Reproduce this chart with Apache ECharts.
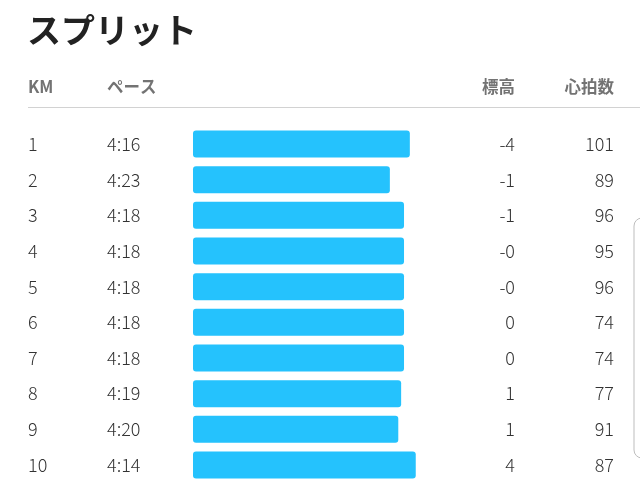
<!DOCTYPE html>
<html>
<head>
<meta charset="utf-8">
<script src="https://cdn.jsdelivr.net/npm/echarts@6/dist/echarts.min.js"></script>
<style>
  html, body { margin: 0; padding: 0; background: #fff; }
  #chart { width: 640px; height: 502px; }
</style>
</head>
<body>
<div id="chart"></div>
<script>
// スプリット表のデータ
const kmLabels = ['1', '2', '3', '4', '5', '6', '7', '8', '9', '10']
const paceLabels = ['4:16', '4:23', '4:18', '4:18', '4:18', '4:18', '4:18', '4:19', '4:20', '4:14']
const elevationLabels = ['-4', '-1', '-1', '-0', '-0', '0', '0', '1', '1', '4']
const heartRates = [101, 89, 96, 95, 96, 74, 74, 77, 91, 87]

// ペース(分:秒) → 速度(km/h)、バーの長さに使う
const speedKmh = paceLabels.map(p => {
  const [m, s] = p.split(':').map(Number)
  return 3600 / (m * 60 + s)
})

const FONT = '"Noto Sans CJK JP", "Noto Sans", sans-serif'
const headerStyle = {
  fontFamily: FONT,
  fontSize: 16.5,
  fontWeight: 'bold',
  color: '#737373',
  verticalAlign: 'middle'
}
const cellLabel = {
  fontFamily: FONT,
  fontSize: 18,
  fontWeight: 300,
  color: '#333',
  margin: 0
}

// 列ごとのカテゴリ軸（ラベルが表のセルになる）
function column(data, name, position, offset, align) {
  return {
    type: 'category',
    data,
    inverse: true,
    position,
    offset,
    axisLine: { show: false },
    axisTick: { show: false },
    splitLine: { show: false },
    axisLabel: { ...cellLabel, align },
    name,
    nameLocation: 'start',
    nameGap: 39,
    nameTextStyle: { ...headerStyle, align }
  }
}

const chart = echarts.init(document.getElementById('chart'))

chart.setOption({
  animation: false,
  title: {
    text: 'スプリット',
    left: 22,
    top: 8,
    textStyle: {
      fontFamily: FONT,
      fontSize: 34,
      fontWeight: 'bold',
      color: '#222'
    }
  },
  grid: {
    left: 193,
    right: 20,
    top: 126.2,
    bottom: 19.2
  },
  xAxis: {
    type: 'value',
    min: 10,
    max: 18,
    show: false
  },
  yAxis: [
    column(kmLabels, 'KM', 'left', 165, 'left'),
    column(paceLabels, 'ペース', 'left', 86, 'left'),
    column(elevationLabels, '標高', 'right', -105, 'right'),
    column(heartRates.map(String), '心拍数', 'right', -6, 'right')
  ],
  series: [
    {
      type: 'bar',
      yAxisIndex: 0,
      data: speedKmh,
      barWidth: 27,
      itemStyle: {
        color: '#25c2fd',
        borderRadius: 3
      }
    }
  ],
  graphic: [
    {
      type: 'line',
      shape: { x1: 28, y1: 107.5, x2: 640, y2: 107.5 },
      style: { stroke: '#d2d2d2', lineWidth: 1 }
    },
    {
      type: 'rect',
      shape: { x: 634, y: 218, width: 24, height: 240, r: 8 },
      style: { fill: 'none', stroke: '#bdbdbd', lineWidth: 1 }
    }
  ]
})
</script>
</body>
</html>
